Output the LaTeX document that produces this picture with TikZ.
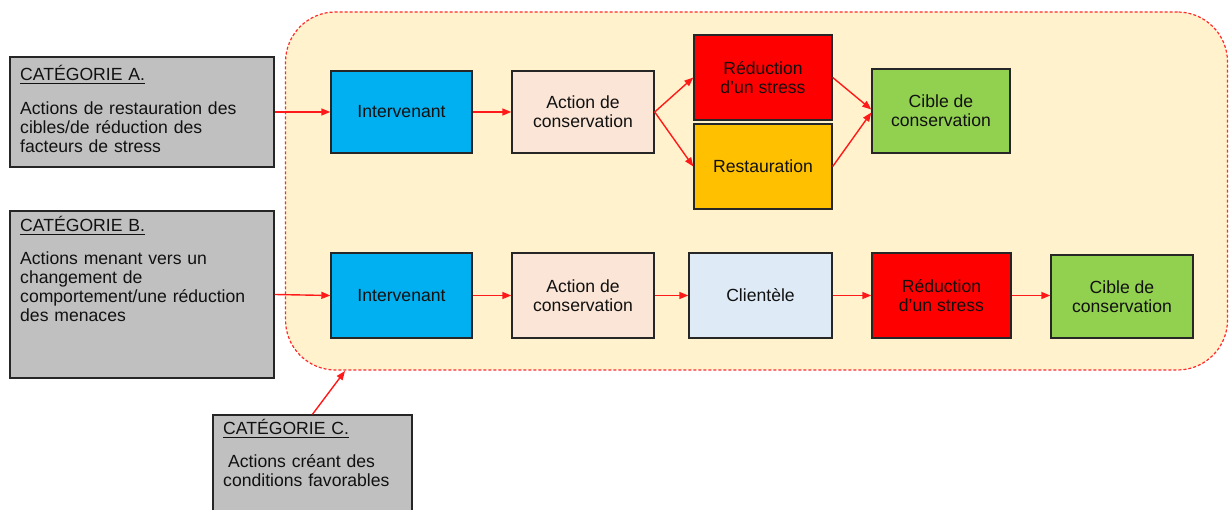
\documentclass[tikz,border=0pt]{standalone}
\usepackage{fontspec}
\setmainfont{Liberation Sans}
\usetikzlibrary{arrows.meta}
\definecolor{boxline}{HTML}{262626}
\definecolor{catgray}{HTML}{C0C0C0}
\definecolor{outerfill}{HTML}{FFF2CC}
\definecolor{outerline}{HTML}{FF2A2A}
\definecolor{arrred}{HTML}{FF1A1A}
\definecolor{intblue}{HTML}{00B0F0}
\definecolor{actpeach}{HTML}{FBE5D6}
\definecolor{redbox}{HTML}{FF0000}
\definecolor{restor}{HTML}{FFC000}
\definecolor{cibgreen}{HTML}{92D050}
\definecolor{clilight}{HTML}{DEEBF7}
\definecolor{txt}{HTML}{111111}
\newcommand\catul[1]{\leavevmode\vtop{\hbox{#1}\kern1.6pt\hrule height 1.2pt}}
\begin{document}
\begin{tikzpicture}[x=1pt,y=-1pt,
  every node/.style={font=\fontsize{17.6}{19}\selectfont, text=txt},
  catbox/.style={draw=boxline, fill=catgray, line width=1.4pt, inner sep=0pt},
  cattext/.style={anchor=base west, inner sep=0pt, text width=258pt, align=left},
  flow/.style={draw=boxline, line width=1.4pt, align=center, inner sep=2pt},
  arr/.style={draw=arrred, line width=1.4pt, -{Triangle[length=9pt,width=7pt]}},
  outerbox/.style={draw=outerline, fill=outerfill, line width=1.2pt, dash pattern=on 3pt off 2pt, rounded corners=50pt, inner sep=0pt}
]
\useasboundingbox (0,0) rectangle (1229,510);

% outer dashed region
\node[outerbox, minimum width=942pt, minimum height=358pt] (outer) at (756.5,191) {};

% category boxes
\node[catbox, minimum width=264pt, minimum height=110pt] (catA) at (142,112) {};
\node[catbox, minimum width=264pt, minimum height=167pt] (catB) at (142,294.5) {};
\node[catbox, minimum width=199pt, minimum height=115pt] (catC) at (312.5,472.5) {};

\node[cattext] (catAt) at (20,81) {\catul{CATÉGORIE A.}\\[15pt]Actions de restauration des\\cibles/de réduction des\\facteurs de stress};
\node[cattext] (catBt) at (20,232) {\catul{CATÉGORIE B.}\\[14pt]Actions menant vers un\\changement de\\comportement/une réduction\\des menaces};
\node[cattext, text width=185pt] (catCt) at (223,435) {\catul{CATÉGORIE C.}\\[14pt]\hspace*{5pt}Actions créant des\\conditions favorables};

% row 1
\node[flow, fill=intblue, minimum width=141pt, minimum height=82pt] (int1) at (401.5,112) {Intervenant};
\node[flow, fill=actpeach, minimum width=142pt, minimum height=82pt] (act1) at (583,112) {Action de\\conservation};
\node[flow, fill=redbox, minimum width=138pt, minimum height=85pt] (red1) at (763,77.5) {Réduction\\d’un stress};
\node[flow, fill=restor, minimum width=138pt, minimum height=85pt] (rest1) at (763,166.5) {Restauration};
\node[flow, fill=cibgreen, minimum width=138pt, minimum height=84pt] (cib1) at (941,111) {Cible de\\conservation};

% row 2
\node[flow, fill=intblue, minimum width=141pt, minimum height=85pt] (int2) at (401.5,295.5) {Intervenant};
\node[flow, fill=actpeach, minimum width=142pt, minimum height=85pt] (act2) at (583,295.5) {Action de\\conservation};
\node[flow, fill=clilight, minimum width=143pt, minimum height=85pt] (cli2) at (760.5,295.5) {Clientèle};
\node[flow, fill=redbox, minimum width=139pt, minimum height=85pt] (red2) at (941.5,295.5) {Réduction\\d’un stress};
\node[flow, fill=cibgreen, minimum width=142pt, minimum height=83pt] (cib2) at (1122,296.5) {Cible de\\conservation};

\coordinate (cEnd) at (345,371);

% connectors
\draw[arr] (catA.east) -- (int1.west);
\draw[arr] (int1.east) -- (act1.west);
\draw[arr] (act1.east) -- (red1.west);
\draw[arr] (act1.east) -- (rest1.west);
\draw[arr] (red1.east) -- ([yshift=1.5pt]cib1.west);
\draw[arr] (rest1.east) -- ([yshift=-1.5pt]cib1.west);

\draw[arr] (catB.east) -- (int2.west);
\draw[arr] (int2.east) -- (act2.west);
\draw[arr] (act2.east) -- (cli2.west);
\draw[arr] (cli2.east) -- (red2.west);
\draw[arr] (red2.east) -- (cib2.west |- red2.east);

\draw[arr] (catC.north) -- (cEnd);
\end{tikzpicture}
\end{document}
